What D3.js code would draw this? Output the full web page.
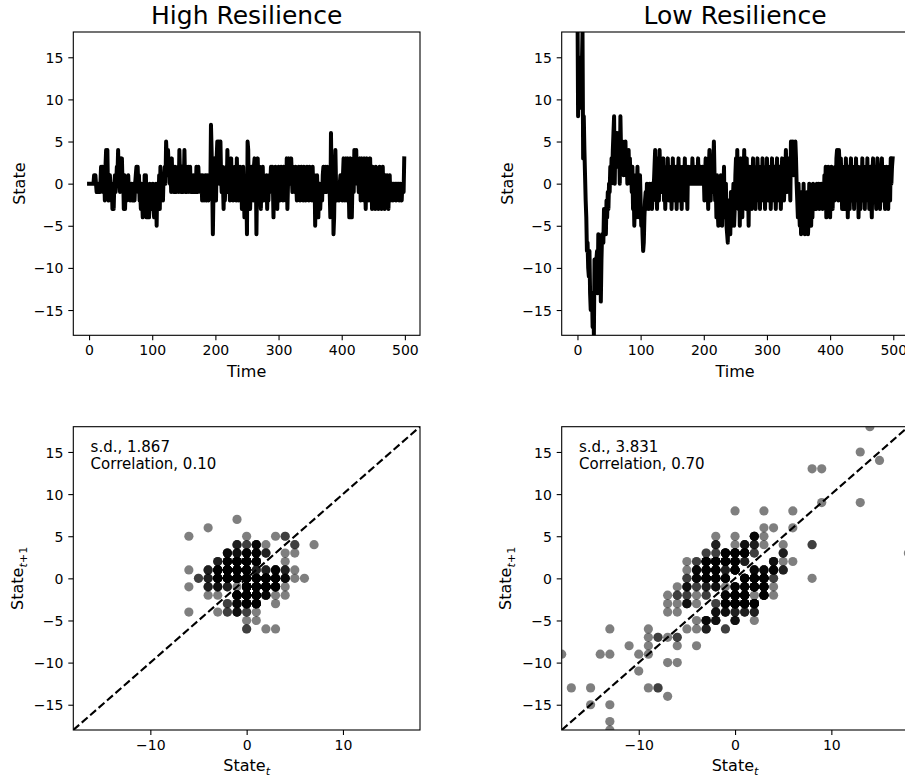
<!DOCTYPE html>
<html>
<head>
<meta charset="utf-8">
<script src="https://cdn.jsdelivr.net/npm/d3@7"></script>
<style>
  body { margin: 0; background: #fff; }
  svg { display: block; font-family: "DejaVu Sans", sans-serif; }
</style>
</head>
<body>
<svg id="fig" width="905" height="780"></svg>
<script>
// Simulated state trajectories (500 time steps each)
const highResilience = [
  0,0,0,0,0,0,0,0,1,1,1,0,-1,0,-1,0,-1,-1,0,2,
  1,2,-1,0,1,-2,2,4,1,4,-1,-2,0,1,-1,-2,0,-3,-1,-3,
  0,1,-1,0,2,1,4,0,3,-1,3,1,3,0,1,-3,1,-3,0,-1,
  -2,0,1,-1,0,-2,-1,0,-1,-2,0,-1,-2,0,1,2,0,2,-1,1,
  -2,-1,-3,0,-2,-4,-1,-3,1,-2,1,-4,-2,-3,-1,-4,0,-2,-3,-1,
  -2,0,-3,-4,-1,-2,0,-5,0,-3,-2,1,-3,2,0,-1,1,-2,1,0,
  2,0,5,3,1,4,2,3,0,2,-1,3,0,2,-1,1,2,0,-1,1,
  0,2,-1,4,1,0,-1,2,0,-1,0,4,0,-1,0,-1,0,2,-1,0,
  2,-1,0,0,-1,1,0,-1,0,-1,2,0,-1,2,0,1,0,-1,1,-2,
  1,0,-2,0,1,-1,-2,1,0,-2,1,0,-1,7,4,0,-6,-1,1,3,
  0,-2,3,5,4,5,0,4,5,1,-1,2,0,-3,1,-2,0,2,-1,4,
  1,-1,2,-2,0,3,-1,2,-2,1,-1,2,0,-2,3,-1,1,-2,0,2,
  -1,1,-3,0,2,-1,-4,0,-3,0,-6,5,4,-2,1,-3,0,2,-1,1,
  -2,2,3,0,2,-6,1,3,0,-1,2,-1,-3,1,0,2,-2,1,-1,0,
  -2,1,-3,0,-2,1,-1,0,2,-1,2,0,-4,1,-2,2,-1,0,-3,1,
  2,0,-2,1,2,-1,0,-2,2,0,1,-1,-2,3,-3,0,3,1,2,0,
  3,1,-1,2,0,1,-1,2,0,-2,1,-1,2,0,-2,1,2,-1,0,-2,
  2,-1,1,-2,0,2,-1,1,-2,2,0,-1,1,-2,2,-1,0,1,-5,0,
  -3,1,-2,-4,-1,0,-3,-1,0,-2,1,2,0,-1,2,1,-1,2,0,1,
  1,-1,-4,6,0,-1,3,-6,-4,1,4,0,-2,-1,0,-1,-2,0,1,-1,
  0,-2,1,3,0,-2,1,3,-1,-2,3,0,-4,1,3,-1,-4,0,2,-1,
  4,3,1,4,0,3,1,-1,2,3,-2,0,3,-1,1,-2,3,0,-3,1,
  3,-1,2,-2,0,3,-1,1,-3,2,0,-1,1,-3,2,0,-2,1,-3,0,
  2,-1,0,-3,1,2,-2,0,-3,1,0,-2,1,-1,-3,0,1,-2,0,-1,
  0,-2,0,0,-1,0,-2,0,0,-1,0,-2,0,0,-1,-2,0,0,-1,3
];

const lowResilience = [
  22,8,13,9,9,13,15,14,18,3,8,4,
  1,-2,
  -4,-8,-7,-10,-11,-8,-13,-15,-15,-13,-17,-13,-18,-9,-13,-9,-9,-8,-13,-6,-10,-9,-7,-14,-9,-6,-7,-7,-3,
  -5,-3,-6,-2,-4,-1,-3,0,-1,2,0,3,1,
  4,6,8,0,5,3,6,6,2,5,4,0,8,4,2,5,3,
  1,4,2,5,1,3,0,2,4,1,3,0,2,
  -1,2,-3,0,-5,-2,1,-4,-1,2,-3,
  0,-4,1,-2,-5,-3,-6,-8,-7,-4,-2,
  -1,-3,0,-2,-1,-3,0,-2,-1,0,-3,-1,-2,0,
  2,4,-1,1,-3,3,0,-2,4,1,-1,
  2,-1,0,3,-2,1,-3,0,2,-1,3,0,-2,1,-1,2,-3,0,3,-1,1,-2,0,2,-3,1,0,3,-1,-2,2,0,-3,1,2,-1,0,3,-2,0,1,-3,2,0,
  1,0,2,1,0,3,1,0,2,0,1,2,0,1,3,0,1,0,2,1,0,2,0,1,
  -2,1,3,-1,2,0,-3,2,4,1,-2,3,0,-1,
  2,5,1,-2,0,-4,1,-3,-5,0,-2,-4,1,-3,-5,-1,-2,2,-4,-3,0,-5,-6,-7,-2,-5,-3,-6,-1,-4,-5,-2,0,-5,-3,1,
  3,-2,4,0,-3,2,-5,1,3,-1,-4,2,0,4,-2,1,-3,3,-1,0,-5,2,1,
  -1,2,-3,0,3,-2,1,0,-3,2,-1,3,0,-2,1,-3,2,0,-1,3,
  -2,0,1,-3,2,-1,3,0,-2,1,-1,2,-3,0,3,-1,1,-2,2,0,
  -3,1,3,-1,0,-2,2,1,-3,0,3,-1,2,-2,0,1,
  4,1,-1,2,0,3,1,-2,5,2,3,5,1,4,2,5,3,0,
  -2,-4,0,-3,-5,-1,-6,-3,-2,-5,0,-4,-6,-2,-3,-5,-1,-6,-4,0,-3,-2,-5,-1,-4,0,-2,-3,-1,
  -1,-3,0,-2,-1,0,-3,-1,-2,0,-1,-3,0,-2,
  1,-2,2,-4,0,-1,2,-3,1,-4,0,2,-1,-3,1,0,
  -2,2,-1,3,4,1,-2,4,2,-1,3,0,-3,2,
  -1,2,-3,0,3,-2,1,-4,2,0,-3,1,3,-1,-2,2,0,-3,1,-1,
  3,0,-2,2,-4,1,0,-3,2,-1,3,-2,0,1,-3,2,0,-1,3,-2,
  1,-3,0,2,-1,-4,1,3,0,-2,2,-1,-3,0,3,1,-2,2,-3,0,
  1,3,-1,-2,2,0,-3,1,2,-1,0,-3,2,1,-2,3,0,2,3
];

const panelTitles = ["High Resilience", "Low Resilience"];
const timeTicks = [0, 100, 200, 300, 400, 500];
const stateTicks = [-15, -10, -5, 0, 5, 10, 15];
const lagTicks = [-10, 0, 10];
const stateRange = [-18, 18];
const sdLabels = ["s.d., 1.867", "s.d., 3.831"];
const corrLabels = ["Correlation, 0.10", "Correlation, 0.70"];

const svg = d3.select("#fig");
const W = 346.7, H = 303.3;
const colX = [73.3, 561.7];
const rowY = [32, 426.7];
const seriesList = [highResilience, lowResilience];

const fmt = v => (v < 0 ? "\u2212" + Math.abs(v) : String(v));

function styleAxis(g) {
  g.select(".domain").remove();
  g.attr("font-size", 14).attr("font-family", "'DejaVu Sans', sans-serif");
  g.selectAll(".tick line").attr("stroke", "#000").attr("stroke-width", 1.1);
  g.selectAll(".tick text").attr("fill", "#000");
}

function drawFrame(g, id) {
  g.append("rect").attr("width", W).attr("height", H)
    .attr("fill", "none").attr("stroke", "#000").attr("stroke-width", 1.1);
}

function addClip(id) {
  svg.append("clipPath").attr("id", id)
    .append("rect").attr("width", W).attr("height", H);
}

function yLabel(g, x, parts) {
  const t = g.append("text")
    .attr("transform", `translate(${x},${H / 2}) rotate(-90)`)
    .attr("text-anchor", "middle").attr("font-size", 16).attr("fill", "#000");
  parts(t);
}

seriesList.forEach((data, i) => {
  // ---- time-series panel ----
  const n = data.length;
  const m = (n - 1) * 0.05;
  const x = d3.scaleLinear().domain([-m, n - 1 + m]).range([0, W]);
  const y = d3.scaleLinear().domain(stateRange).range([H, 0]);
  const clipTop = "clip-ts-" + i;
  addClip(clipTop);

  const g = svg.append("g").attr("transform", `translate(${colX[i]},${rowY[0]})`);
  g.append("path")
    .datum(data)
    .attr("clip-path", `url(#${clipTop})`)
    .attr("fill", "none")
    .attr("stroke", "#000")
    .attr("stroke-width", 4)
    .attr("stroke-linejoin", "round")
    .attr("stroke-linecap", "square")
    .attr("d", d3.line().x((d, k) => x(k)).y(d => y(d)));

  g.append("g").attr("transform", `translate(0,${H})`)
    .call(d3.axisBottom(x).tickValues(timeTicks).tickFormat(fmt)
      .tickSize(5).tickSizeOuter(0).tickPadding(4.9))
    .call(styleAxis);
  g.append("g")
    .call(d3.axisLeft(y).tickValues(stateTicks).tickFormat(fmt)
      .tickSize(5).tickSizeOuter(0).tickPadding(4.9))
    .call(styleAxis)
    .selectAll(".tick text").attr("dy", "0.36em");
  drawFrame(g);

  g.append("text").attr("x", W / 2).attr("y", 24 - rowY[0])
    .attr("text-anchor", "middle").attr("font-size", 25).attr("fill", "#000")
    .text(panelTitles[i]);
  g.append("text").attr("x", W / 2).attr("y", H + 41.5)
    .attr("text-anchor", "middle").attr("font-size", 16).attr("fill", "#000")
    .text("Time");
  yLabel(g, -48.8, t => t.text("State"));

  // ---- lag plot: state at t against state at t+1 ----
  const pairs = d3.pairs(data);
  const sx = d3.scaleLinear().domain(stateRange).range([0, W]);
  const sy = d3.scaleLinear().domain(stateRange).range([H, 0]);
  const clipBot = "clip-lag-" + i;
  addClip(clipBot);

  const h = svg.append("g").attr("transform", `translate(${colX[i]},${rowY[1]})`);
  const plot = h.append("g").attr("clip-path", `url(#${clipBot})`);
  plot.selectAll("circle").data(pairs).join("circle")
    .attr("cx", d => sx(d[0]))
    .attr("cy", d => sy(d[1]))
    .attr("r", 4.6)
    .attr("fill", "#000")
    .attr("fill-opacity", 0.5);
  plot.append("line")
    .attr("x1", sx(stateRange[0])).attr("y1", sy(stateRange[0]))
    .attr("x2", sx(stateRange[1])).attr("y2", sy(stateRange[1]))
    .attr("stroke", "#000").attr("stroke-width", 2.1)
    .attr("stroke-dasharray", "7.8,3.4");

  h.append("g").attr("transform", `translate(0,${H})`)
    .call(d3.axisBottom(sx).tickValues(lagTicks).tickFormat(fmt)
      .tickSize(5).tickSizeOuter(0).tickPadding(4.9))
    .call(styleAxis);
  h.append("g")
    .call(d3.axisLeft(sy).tickValues(stateTicks).tickFormat(fmt)
      .tickSize(5).tickSizeOuter(0).tickPadding(4.9))
    .call(styleAxis)
    .selectAll(".tick text").attr("dy", "0.36em");
  drawFrame(h);

  const stats = h.append("g").attr("font-size", 15).attr("fill", "#000");
  stats.append("text").attr("x", 17.3).attr("y", 25).text(sdLabels[i]);
  stats.append("text").attr("x", 17.3).attr("y", 42).text(corrLabels[i]);

  const xl = h.append("text").attr("x", W / 2).attr("y", H + 41)
    .attr("text-anchor", "middle").attr("font-size", 16).attr("fill", "#000");
  xl.append("tspan").text("State");
  xl.append("tspan").attr("font-size", 11.2).attr("font-style", "italic")
    .attr("dy", 4).text("t");

  yLabel(h, -50.3, t => {
    t.append("tspan").text("State");
    t.append("tspan").attr("font-size", 11.2).attr("font-style", "italic")
      .attr("dy", 4).text("t");
    t.append("tspan").attr("font-size", 11.2).text("+1");
  });
});
</script>
</body>
</html>
